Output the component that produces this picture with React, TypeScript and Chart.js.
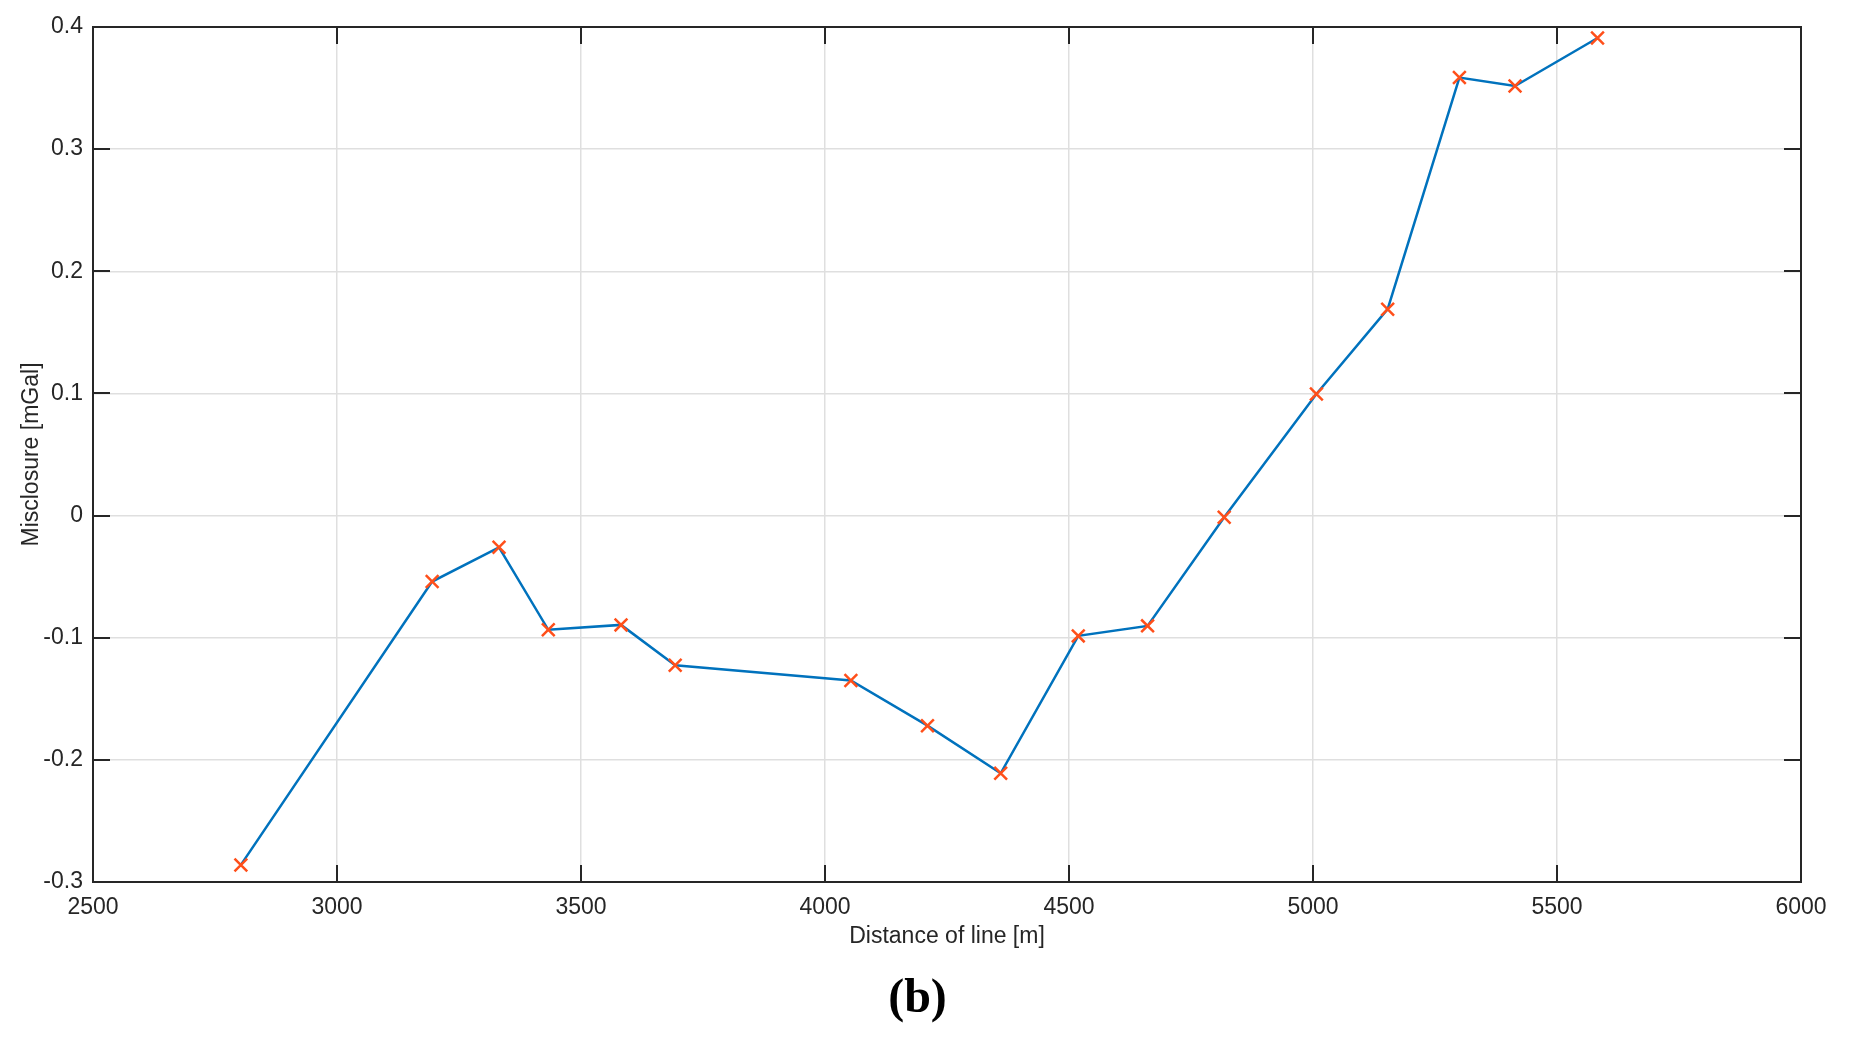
import React, { useEffect, useRef } from "react";
import { Chart, registerables } from "chart.js";

Chart.register(...registerables);

const distances = [2803, 3195, 3332, 3433, 3582, 3693, 4053, 4210, 4360, 4519, 4661, 4818, 5007, 5153, 5300, 5414, 5583];
const misclosure = [-0.286, -0.054, -0.026, -0.0935, -0.0895, -0.1225, -0.135, -0.172, -0.211, -0.0985, -0.0903, -0.0014, 0.0995, 0.169, 0.3586, 0.3517, 0.391];

const xTickValues = [2500, 3000, 3500, 4000, 4500, 5000, 5500, 6000];
const yTickValues = [-0.3, -0.2, -0.1, 0, 0.1, 0.2, 0.3, 0.4];

const xTitle = "Distance of line [m]";
const yTitle = "Misclosure [mGal]";
const caption = "(b)";

const AXIS_COLOR = "#262626";
const FONT = "'Liberation Sans', Arial, Helvetica, sans-serif";
const FONT_SIZE = 23;

const boxPlugin = {
  id: "matlabBox",
  beforeDatasetsDraw(chart: any) {
    const { ctx, chartArea } = chart;
    const { left, right, top, bottom } = chartArea;
    const xs = chart.scales.x;
    const ys = chart.scales.y;
    const tl = 17;
    ctx.save();
    ctx.strokeStyle = AXIS_COLOR;
    ctx.lineWidth = 2;
    ctx.beginPath();
    for (const v of xTickValues) {
      const px = Math.round(xs.getPixelForValue(v));
      ctx.moveTo(px, bottom);
      ctx.lineTo(px, bottom - tl);
      ctx.moveTo(px, top);
      ctx.lineTo(px, top + tl);
    }
    for (const v of yTickValues) {
      const py = Math.round(ys.getPixelForValue(v));
      ctx.moveTo(left, py);
      ctx.lineTo(left + tl, py);
      ctx.moveTo(right, py);
      ctx.lineTo(right - tl, py);
    }
    ctx.stroke();
    ctx.strokeRect(left, top, right - left, bottom - top);
    ctx.restore();
  },
};

export default function App() {
  const canvasRef = useRef<HTMLCanvasElement | null>(null);

  useEffect(() => {
    const canvas = canvasRef.current;
    if (!canvas) return;
    const points = distances.map((d, i) => ({ x: d, y: misclosure[i] }));
    const chart = new Chart(canvas, {
      type: "line",
      data: {
        datasets: [
          {
            data: points,
            borderColor: "#0072BD",
            borderWidth: 2.5,
            pointStyle: "crossRot",
            pointRadius: 9,
            pointHoverRadius: 9,
            pointBorderColor: "#FF4F1A",
            pointBackgroundColor: "#FF4F1A",
            pointBorderWidth: 2.5,
            tension: 0,
            fill: false,
          },
        ],
      },
      options: {
        responsive: false,
        animation: false,
        events: [],
        layout: { padding: { left: 0, top: 27, right: 48, bottom: 0 } },
        plugins: {
          legend: { display: false },
          tooltip: { enabled: false },
          title: { display: false },
        },
        scales: {
          x: {
            type: "linear",
            min: 2500,
            max: 6000,
            afterFit: (s: any) => {
              s.height = 157;
            },
            afterBuildTicks: (s: any) => {
              s.ticks = xTickValues.map((v) => ({ value: v }));
            },
            ticks: {
              color: AXIS_COLOR,
              font: { family: FONT, size: FONT_SIZE },
              padding: 12,
              maxRotation: 0,
              autoSkip: false,
              callback: (v: any) => String(v),
            },
            grid: {
              color: "#dfdfdf",
              lineWidth: 1.5,
              drawTicks: false,
            },
            border: { display: false },
            title: {
              display: true,
              text: xTitle,
              color: AXIS_COLOR,
              font: { family: FONT, size: FONT_SIZE },
              padding: { top: 0, bottom: 89 },
            },
          },
          y: {
            type: "linear",
            min: -0.3,
            max: 0.4,
            afterFit: (s: any) => {
              s.width = 93;
            },
            afterBuildTicks: (s: any) => {
              s.ticks = yTickValues.map((v) => ({ value: v }));
            },
            ticks: {
              color: AXIS_COLOR,
              font: { family: FONT, size: FONT_SIZE },
              padding: 10,
              autoSkip: false,
              callback: (v: any) => String(Number(Number(v).toFixed(1))),
            },
            grid: {
              color: "#dfdfdf",
              lineWidth: 1.5,
              drawTicks: false,
            },
            border: { display: false },
            title: {
              display: true,
              text: yTitle,
              color: AXIS_COLOR,
              font: { family: FONT, size: FONT_SIZE },
              padding: { top: 18, bottom: 0 },
            },
          },
        },
      },
      plugins: [boxPlugin],
    });
    return () => chart.destroy();
  }, []);

  return (
    <div style={{ position: "absolute", left: 0, top: 0, width: 1849, height: 1039, background: "#fff" }}>
      <canvas ref={canvasRef} width={1849} height={1039} style={{ display: "block" }} />
      <div
        style={{
          position: "absolute",
          left: 0,
          width: 1835,
          top: 966,
          textAlign: "center",
          fontFamily: "'Liberation Serif', 'Times New Roman', serif",
          fontWeight: "bold",
          fontSize: 48,
          lineHeight: "60px",
          color: "#000",
        }}
      >
        {caption}
      </div>
    </div>
  );
}
